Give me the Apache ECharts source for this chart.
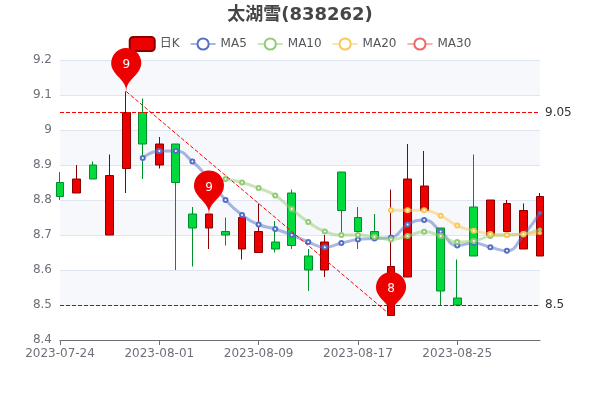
<!DOCTYPE html>
<html><head><meta charset="utf-8">
<script src="https://cdn.jsdelivr.net/npm/echarts@6/dist/echarts.min.js"></script>
<style>html,body{margin:0;padding:0;background:#fff}#c{width:600px;height:400px}</style></head>
<body><div id="c"></div>
<script>
const dates=['2023-07-24','2023-07-25','2023-07-26','2023-07-27','2023-07-28','2023-07-31','2023-08-01','2023-08-02','2023-08-03','2023-08-04','2023-08-07','2023-08-08','2023-08-09','2023-08-10','2023-08-11','2023-08-14','2023-08-15','2023-08-16','2023-08-17','2023-08-18','2023-08-21','2023-08-22','2023-08-23','2023-08-24','2023-08-25','2023-08-28','2023-08-29','2023-08-30','2023-08-31','2023-09-01'];
const opens =[8.85,8.82,8.90,8.70,8.89,9.05,8.90,8.96,8.76,8.72,8.71,8.66,8.65,8.68,8.82,8.64,8.60,8.88,8.75,8.71,8.47,8.58,8.77,8.72,8.52,8.78,8.70,8.71,8.66,8.64];
const closes=[8.81,8.86,8.86,8.87,9.05,8.96,8.96,8.85,8.72,8.76,8.70,8.75,8.71,8.66,8.67,8.60,8.68,8.77,8.71,8.69,8.61,8.86,8.84,8.54,8.50,8.64,8.80,8.79,8.77,8.81];
const lows  =[8.80,8.82,8.86,8.70,8.82,8.86,8.89,8.60,8.61,8.66,8.67,8.63,8.65,8.65,8.66,8.54,8.58,8.70,8.66,8.69,8.47,8.58,8.77,8.50,8.50,8.64,8.70,8.71,8.66,8.64];
const highs =[8.88,8.90,8.91,8.93,9.11,9.09,8.98,8.96,8.78,8.76,8.75,8.75,8.79,8.74,8.83,8.66,8.70,8.88,8.78,8.76,8.83,8.96,8.94,8.72,8.63,8.93,8.80,8.80,8.79,8.82];
const ma5 =['-','-','-','-','-',8.92,8.94,8.94,8.91,8.86,8.80,8.757,8.73,8.717,8.70,8.68,8.665,8.677,8.687,8.69,8.693,8.73,8.743,8.71,8.67,8.677,8.665,8.655,8.70,8.763];
const ma10=['-','-','-','-','-','-','-','-','-','-',8.86,8.85,8.834,8.813,8.774,8.737,8.71,8.70,8.70,8.695,8.687,8.697,8.709,8.697,8.68,8.683,8.697,8.70,8.703,8.716];
const ma20=['-','-','-','-','-','-','-','-','-','-','-','-','-','-','-','-','-','-','-','-',8.771,8.771,8.771,8.755,8.727,8.712,8.703,8.70,8.703,8.706];
const ma30=dates.map(()=> '-');
const levels=[9.05,8.5];
const peakIdx=[4,9,20];
const peakVal=[9.11,8.76,8.47];
const FONT='DejaVu Sans, Noto Sans CJK SC';
const chart=echarts.init(document.getElementById('c'),null,{renderer:'canvas'});
const maSeries=(name,data)=>({name,type:'line',smooth:true,symbolSize:4,lineStyle:{opacity:0.5,width:3},
  data:data.map((v,i)=>i===data.length-1&&v!=='-'?{value:v,symbol:'circle'}:v)});
chart.setOption({
 animation:false,
 textStyle:{fontFamily:FONT},
 color:['#5470c6','#91cc75','#fac858','#ee6666'],
 title:{text:'太湖雪(838262)',left:'center',top:1,textStyle:{fontSize:18,fontWeight:'bold',color:'#464646',fontFamily:FONT}},
 legend:{top:31,itemGap:10,data:['日K','MA5','MA10','MA20','MA30'],textStyle:{fontFamily:FONT,fontSize:12}},
 grid:{left:60,right:60,top:60,bottom:60},
 xAxis:{type:'category',data:dates,boundaryGap:false,axisLine:{lineStyle:{color:'#6E7079'}},axisTick:{show:true,interval:5,alignWithLabel:true},axisLabel:{interval:5,color:'#6E7079',fontFamily:FONT},splitLine:{show:false}},
 yAxis:{type:'value',min:8.4,max:9.2,interval:0.1,splitLine:{lineStyle:{color:'#E0E6F1'}},splitArea:{show:true,areaStyle:{color:['rgba(255,255,255,0.3)','rgba(210,219,238,0.2)']}},axisLabel:{color:'#6E7079',fontFamily:FONT,padding:[4,0,0,0]}},
 series:[
  {name:'日K',type:'candlestick',data:dates.map((d,i)=>[opens[i],closes[i],lows[i],highs[i]]),
   itemStyle:{color:'#ec0000',color0:'#00da3c',borderColor:'#8A0000',borderColor0:'#008F28'},
   markPoint:{data:peakIdx.map((k,i)=>({coord:[dates[k],peakVal[i]],value:Math.round(peakVal[i])})),
     itemStyle:{color:'#ec0000'},label:{color:'#fff',fontFamily:FONT}},
   markLine:{symbol:'none',label:{color:'#333',fontFamily:FONT,padding:[4,0,0,0]},
     data:[{yAxis:levels[0],lineStyle:{color:'#ff0000',type:'dashed',width:1,opacity:1}},
           {yAxis:levels[1],lineStyle:{color:'#cc0000',type:'dashed',width:1,opacity:1}},
           [{coord:[dates[peakIdx[0]],peakVal[0]],lineStyle:{color:'#ff0000',type:'dashed',width:1,opacity:1},label:{show:false}},{coord:[dates[peakIdx[2]],peakVal[2]]}]]}},
  maSeries('MA5',ma5),maSeries('MA10',ma10),maSeries('MA20',ma20),maSeries('MA30',ma30)
 ]
});
</script></body></html>
